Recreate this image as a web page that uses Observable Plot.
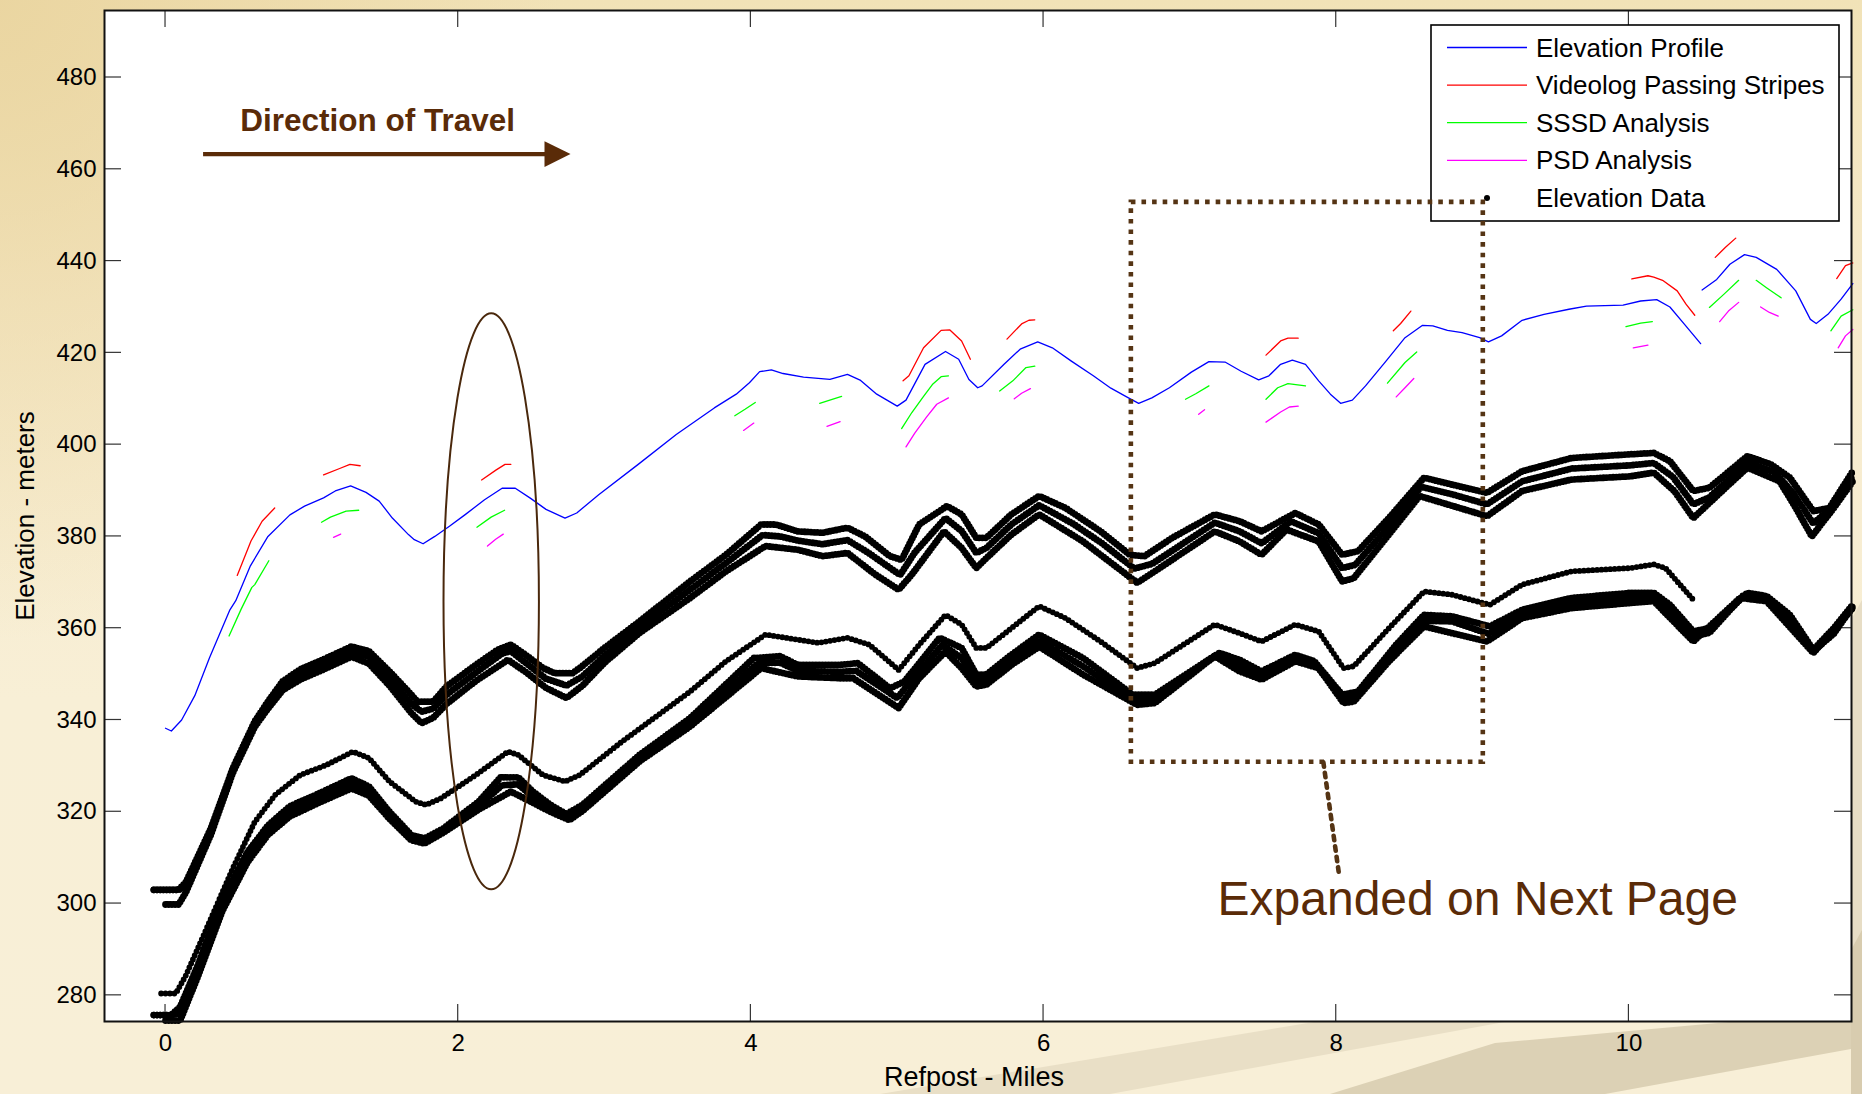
<!DOCTYPE html>
<html>
<head>
<meta charset="utf-8">
<script src="https://cdn.jsdelivr.net/npm/d3@7"></script>
<script src="https://cdn.jsdelivr.net/npm/@observablehq/plot@0.6"></script>
<style>
  html, body { margin: 0; padding: 0; }
  body {
    width: 1862px; height: 1094px; overflow: hidden; position: relative;
    background:
      radial-gradient(ellipse 560px 640px at 0 0, rgba(234,213,160,0.95), rgba(234,213,160,0) 100%),
      linear-gradient(to bottom, #F1E2B7 0px, #F6EACB 300px, #F8EFD6 700px, #F8EFD7 100%);
    font-family: "Liberation Sans", Arial, sans-serif;
  }
  #bg { position: absolute; left: 0; top: 0; }
  #chart { position: absolute; left: 0; top: 0; }
</style>
</head>
<body>
<svg id="bg" width="1862" height="1094">
  <polygon points="880,1094 1320,1021 1510,1021 1110,1094" fill="#E9DFC6"/>
  <polygon points="1330,1094 1495,1043 1740,1021 1862,1021 1862,1047 1605,1094" fill="#DCD1B5"/>
  <polygon points="1851,620 1862,600 1862,1094 1851,1094" fill="#E7DDC5"/>
  <polygon points="1851,950 1862,930 1862,1094 1851,1094" fill="#D8CCAF"/>
</svg>
<div id="chart"></div>
<script>
// ---------- axes ----------
const xDomain = [-0.417, 11.521];
const yDomain = [274.3, 494.6];
const xTicks = [0, 2, 4, 6, 8, 10];
const yTicks = [280, 300, 320, 340, 360, 380, 400, 420, 440, 460, 480];
const xLabel = "Refpost - Miles";
const yLabel = "Elevation - meters";

// ---------- Elevation Profile (blue) ----------
const profileMain = [[0,338.2],[0.04,337.6],[0.11,340],[0.2,345.3],[0.3,353.5],[0.44,364],[0.48,366],[0.58,373.6],[0.7,380],[0.85,384.7],[0.95,386.6],[1.08,388.4],[1.16,389.9],[1.265,391],[1.37,389.6],[1.46,387.7],[1.55,384],[1.66,380.4],[1.7,379.3],[1.76,378.4],[1.84,380],[1.94,382.2],[2.05,384.8],[2.18,388],[2.3,390.5],[2.39,390.5],[2.49,388.4],[2.6,385.9],[2.73,384],[2.81,385.1],[2.96,389.1],[3.23,395.7],[3.49,402.2],[3.75,408],[3.9,411],[3.99,413.5],[4.06,415.9],[4.14,416.3],[4.22,415.5],[4.36,414.7],[4.54,414.2],[4.66,415.3],[4.75,414],[4.86,411],[4.93,409.7],[5.0,408.4],[5.06,409.7],[5.19,417.5],[5.33,420.3],[5.42,418.6],[5.49,414.2],[5.55,412.4],[5.58,412.8],[5.73,417.5],[5.84,420.8],[5.96,422.4],[6.06,421.1],[6.19,418.2],[6.34,415],[6.46,412.3],[6.58,410.2],[6.65,409],[6.74,410.2],[6.86,412.4],[7.01,415.8],[7.13,418.1],[7.24,418],[7.35,416],[7.47,414.1],[7.54,415],[7.62,417.5],[7.7,418.4],[7.79,417.5],[7.88,413.9],[7.96,411],[8.03,409],[8.11,409.7],[8.2,412.8],[8.34,418.2],[8.47,423.3],[8.59,426],[8.66,425.9],[8.76,424.9],[8.86,424.4],[8.98,423.3],[9.04,422.4],[9.13,423.7],[9.27,427.1],[9.42,428.4],[9.59,429.5],[9.71,430.2],[9.96,430.4],[10.08,431.3],[10.19,431.6],[10.28,430],[10.38,426.2],[10.49,422]];
const profileEnd = [[10.5,433.7],[10.6,436],[10.69,439.3],[10.79,441.4],[10.87,440.8],[11.01,438.2],[11.14,433.5],[11.24,427.3],[11.28,426.4],[11.36,428.4],[11.45,431.7],[11.53,435.1]];

// ---------- Videolog Passing Stripes (red) ----------
const videologSegments = [
  [[0.49,371.5],[0.584,379],[0.66,383.3],[0.746,386.2]],
  [[1.08,393.4],[1.19,394.8],[1.26,395.7],[1.33,395.4]],
  [[2.16,392.3],[2.26,394.5],[2.32,395.7],[2.36,395.7]],
  [[5.04,413.9],[5.08,415],[5.18,421.1],[5.3,424.9],[5.36,425],[5.44,422.6],[5.5,418.6]],
  [[5.75,423],[5.85,426.3],[5.9,427.1],[5.94,427.2]],
  [[7.52,419.5],[7.62,422.6],[7.67,423.2],[7.74,423.2]],
  [[8.39,424.8],[8.44,426.4],[8.51,429.1]],
  [[10.02,436.1],[10.13,436.8],[10.17,436.5],[10.23,435.8],[10.33,433.5],[10.39,430.6],[10.45,428.2]],
  [[10.59,440.8],[10.66,443],[10.73,445]],
  [[11.42,436.2],[11.48,439],[11.53,439.6]]
];

// ---------- SSSD Analysis (green) ----------
const sssdSegments = [
  [[0.434,358.3],[0.516,364.1],[0.59,368.9],[0.61,369.5],[0.706,374.7]],
  [[1.066,383.1],[1.127,384.2],[1.234,385.5],[1.32,385.7]],
  [[2.128,382],[2.225,384.2],[2.317,385.7]],
  [[3.89,406.3],[3.96,407.7],[4.03,409.2]],
  [[4.47,409],[4.55,409.8],[4.62,410.5]],
  [[5.03,403.5],[5.1,407],[5.18,410.5],[5.24,413.1],[5.3,414.8],[5.35,415]],
  [[5.7,411.7],[5.79,413.9],[5.88,416.8],[5.94,417.1]],
  [[6.97,409.9],[7.04,411.1],[7.13,412.8]],
  [[7.52,409.9],[7.6,412.4],[7.67,413.3],[7.79,412.8]],
  [[8.35,413.4],[8.47,417.9],[8.55,420.2]],
  [[9.98,425.7],[10.08,426.5],[10.16,426.8]],
  [[10.55,429.9],[10.65,432.8],[10.75,435.8]],
  [[10.87,435.8],[10.94,434.2],[11.04,432]],
  [[11.38,424.8],[11.45,428],[11.53,429.4]]
];

// ---------- PSD Analysis (magenta) ----------
const psdSegments = [
  [[1.148,379.8],[1.197,380.5]],
  [[2.2,377.9],[2.256,379.4],[2.308,380.5]],
  [[3.95,403.1],[4.02,404.7]],
  [[4.52,404],[4.61,405]],
  [[5.06,399.5],[5.12,402.5],[5.2,406],[5.27,408.8],[5.35,410.2]],
  [[5.8,410],[5.85,411.2],[5.91,412.2]],
  [[7.06,406.6],[7.1,407.6]],
  [[7.52,404.9],[7.62,407.1],[7.68,408.2],[7.74,408.4]],
  [[8.41,410.4],[8.47,412.4],[8.53,414.4]],
  [[10.03,421.1],[10.13,421.7]],
  [[10.62,426.8],[10.68,429.1],[10.75,431]],
  [[10.9,430],[10.96,428.8],[11.02,428]],
  [[11.43,421.1],[11.48,423.7],[11.53,425.1]]
];

// ---------- Elevation Data (black traces) ----------
const upperTop = [[-0.08,303],[0.09,303],[0.14,304.7],[0.31,316.4],[0.46,329.5],[0.61,339.7],[0.7,344],[0.8,348.4],[0.92,351],[1.1,353.5],[1.27,356],[1.39,355],[1.53,350.6],[1.68,345.5],[1.72,344],[1.83,344],[1.92,347.3],[2.12,352],[2.27,355.3],[2.36,356.4],[2.46,354.2],[2.58,351.3],[2.66,350.2],[2.78,350.2],[2.83,351.3],[3.0,355.7],[3.24,361.5],[3.585,370.2],[3.83,376],[4.07,382.6],[4.17,382.6],[4.32,381.1],[4.49,380.8],[4.66,381.9],[4.78,380],[4.95,375.7],[5.03,374.9],[5.15,382.6],[5.34,386.6],[5.44,384.8],[5.54,379.7],[5.61,379.7],[5.78,384.8],[5.97,388.8],[6.15,386.2],[6.39,381.1],[6.59,376],[6.69,375.7],[6.88,379.7],[7.17,384.8],[7.34,383.3],[7.49,381.1],[7.72,385.1],[7.88,382.6],[8.04,376],[8.15,376.8],[8.36,384],[8.6,392.8],[8.79,391.3],[9.03,389.5],[9.27,394.2],[9.61,397.1],[10.01,397.9],[10.17,398.2],[10.28,396.4],[10.44,389.9],[10.55,390.6],[10.81,397.5],[10.97,395.7],[11.1,392.8],[11.26,385.5],[11.37,386.2],[11.53,394.2]];
const upperMid = [[-0.08,303],[0.09,303],[0.14,304],[0.31,315.8],[0.46,329],[0.61,339],[0.7,343.3],[0.8,347.5],[0.92,350],[1.1,352.5],[1.27,355],[1.39,353.8],[1.53,349.2],[1.68,343.5],[1.75,341.8],[1.83,342.5],[1.92,345.5],[2.12,350.3],[2.3,354.5],[2.36,355],[2.46,352.5],[2.6,349],[2.74,347.5],[2.85,349.5],[3.0,354],[3.24,360.3],[3.585,368.4],[3.83,374.2],[4.08,380.3],[4.2,380],[4.32,379.1],[4.49,378.3],[4.66,379.2],[4.8,376.5],[5.02,371.6],[5.12,376.5],[5.33,384],[5.44,381.2],[5.54,376.4],[5.61,377.5],[5.78,382.6],[5.97,386.8],[6.2,382.8],[6.4,378.5],[6.62,373],[6.74,374],[7.17,383],[7.34,381.1],[7.49,378.5],[7.69,383.3],[7.88,380.7],[8.04,373.1],[8.13,373.8],[8.36,382.2],[8.58,390.8],[8.79,389.2],[9.03,387],[9.27,392],[9.61,394.8],[10.01,395.5],[10.17,396],[10.3,393],[10.44,387],[10.55,388.5],[10.81,396.2],[11.0,393.9],[11.12,389.5],[11.26,382.8],[11.38,386.2],[11.53,393.1]];
const upperLow = [[0.0,299.8],[0.09,299.8],[0.14,302.5],[0.31,315],[0.46,328.5],[0.61,338.5],[0.7,342.5],[0.8,346.5],[0.92,348.8],[1.1,351.3],[1.27,353.8],[1.39,352.3],[1.53,347.5],[1.68,341.5],[1.75,339.3],[1.83,340.5],[1.92,343.5],[2.12,348.5],[2.34,353.1],[2.46,350.5],[2.6,347],[2.74,344.8],[2.85,347.5],[3.0,352.5],[3.24,359],[3.585,366.6],[3.83,372.4],[4.1,377.9],[4.32,377.1],[4.49,375.7],[4.66,376.4],[4.85,371.7],[5.01,368.4],[5.1,371.7],[5.32,381.1],[5.44,377.5],[5.54,373.1],[5.61,375.3],[5.78,380.4],[5.97,384.8],[6.27,378.9],[6.64,369.9],[6.76,372.4],[7.17,381.1],[7.34,378.9],[7.49,376],[7.66,381.5],[7.88,378.9],[8.04,370.2],[8.12,370.9],[8.36,380.4],[8.57,388.8],[9.03,384.4],[9.27,389.9],[9.61,392.4],[10.01,393.1],[10.17,393.9],[10.31,389.9],[10.44,384],[10.66,390.6],[10.81,395],[11.03,392],[11.14,386.2],[11.25,380],[11.4,386.2],[11.53,392]];
const middleTrace = [[-0.03,280.4],[0.07,280.4],[0.14,284.4],[0.31,296.7],[0.46,307.7],[0.61,317.8],[0.75,323.7],[0.92,328],[1.1,330.2],[1.28,333.1],[1.39,331.7],[1.53,326.6],[1.71,322.2],[1.78,321.5],[1.88,322.9],[2.12,328],[2.34,333.1],[2.41,332.4],[2.58,328],[2.73,326.6],[2.83,328],[3.12,335.3],[3.585,346.2],[3.83,352.8],[4.1,358.6],[4.32,357.5],[4.46,356.8],[4.66,357.9],[4.81,356.4],[5.01,350.9],[5.15,356.4],[5.33,362.9],[5.44,360.8],[5.54,355.7],[5.61,355.7],[5.78,360],[5.97,364.8],[6.15,362.2],[6.39,357.1],[6.64,351.3],[6.76,352.4],[7.17,360.8],[7.34,358.9],[7.49,357.1],[7.72,360.8],[7.88,359.3],[8.05,351.3],[8.12,351.7],[8.36,360],[8.6,368],[8.79,367.3],[9.05,365.1],[9.27,369.5],[9.61,372.4],[10.01,373.1],[10.17,373.9],[10.25,373.1],[10.44,366.2]];
const lowerTop = [[-0.08,275.7],[0.04,275.7],[0.1,277.5],[0.22,286.5],[0.39,301],[0.56,311.2],[0.7,317],[0.85,321.2],[1.05,324],[1.27,327.3],[1.39,325.5],[1.53,320],[1.68,314.9],[1.77,314.2],[1.9,316.4],[2.14,322.2],[2.29,327.5],[2.41,327.5],[2.51,324.4],[2.63,321.5],[2.74,319.5],[2.85,321.5],[3.24,332.4],[3.585,340.4],[4.02,353.5],[4.2,353.9],[4.32,352],[4.61,352],[4.73,352.4],[4.95,346.9],[5.05,348.4],[5.29,357.9],[5.44,355.7],[5.54,349.9],[5.61,349.9],[5.78,354.2],[5.97,358.6],[6.27,353.5],[6.61,345.5],[6.76,345.5],[7.2,354.6],[7.34,353.1],[7.49,350.6],[7.72,354.2],[7.85,352.8],[8.04,345.5],[8.15,346.2],[8.41,356.4],[8.6,362.9],[8.79,362.6],[9.05,360.4],[9.27,364],[9.61,366.6],[10.01,367.7],[10.17,367.7],[10.28,365.1],[10.44,359.3],[10.55,360],[10.81,367.7],[10.94,367],[11.1,362.9],[11.26,355.3],[11.4,360],[11.53,365.1]];
const lowerMid = [[-0.08,275.7],[0.04,275.7],[0.1,276],[0.22,285.2],[0.39,299.7],[0.56,310.1],[0.7,316],[0.85,320.1],[1.05,323],[1.27,326.2],[1.39,324.5],[1.53,319.2],[1.68,314.3],[1.77,313.6],[1.9,316],[2.14,321.3],[2.3,325.8],[2.41,326],[2.51,323.2],[2.63,320.8],[2.75,318.8],[2.85,320.8],[3.24,331.7],[3.585,339.5],[4.05,352.4],[4.2,352.5],[4.32,350.7],[4.61,350.5],[4.72,350.7],[5.0,344.8],[5.1,348.7],[5.31,356.4],[5.44,353.5],[5.54,348.6],[5.61,348.8],[5.78,353.1],[5.97,357.3],[6.27,351.7],[6.62,344.4],[6.76,344.6],[7.18,354.2],[7.34,351.8],[7.49,349.7],[7.72,353.5],[7.86,352],[8.05,344.6],[8.13,345.1],[8.38,354.6],[8.6,361.6],[8.79,361.5],[9.04,358.8],[9.27,363.1],[9.61,365.5],[10.01,366.6],[10.17,366.8],[10.28,364],[10.44,358.2],[10.55,359],[10.78,367.1],[10.94,366.4],[11.1,361.5],[11.26,355],[11.4,358.8],[11.53,364.7]];
const lowerLow = [[0.0,274.5],[0.1,274.5],[0.22,284],[0.39,298.5],[0.56,309],[0.7,315],[0.85,319],[1.05,322],[1.27,325.1],[1.39,323.5],[1.53,318.5],[1.68,313.8],[1.77,313.1],[1.9,315.5],[2.14,320.5],[2.36,324.4],[2.51,322],[2.63,320],[2.76,318.2],[2.85,320.2],[3.24,331],[3.585,338.6],[4.07,351.3],[4.32,349.5],[4.61,349.1],[4.7,349.1],[5.01,342.6],[5.15,349.1],[5.33,354.9],[5.44,351.3],[5.54,347.3],[5.61,347.7],[5.78,352],[5.97,356],[6.27,349.9],[6.64,343.3],[6.76,343.7],[7.17,353.9],[7.34,350.6],[7.49,348.8],[7.72,352.8],[7.88,351.3],[8.05,343.7],[8.12,344],[8.36,352.8],[8.6,360.4],[9.03,357.1],[9.27,362.2],[9.61,364.4],[10.01,365.5],[10.17,365.9],[10.44,357.1],[10.76,366.6],[10.94,365.9],[11.26,354.6],[11.53,364.4]];

// ---------- legend + annotations ----------
const legendItems = [
  {label: "Elevation Profile", color: "#0000FF", kind: "line"},
  {label: "Videolog Passing Stripes", color: "#FF0000", kind: "line"},
  {label: "SSSD Analysis", color: "#00FF00", kind: "line"},
  {label: "PSD Analysis", color: "#FF00FF", kind: "line"},
  {label: "Elevation Data", color: "#000000", kind: "dot"}
];
const directionNote = {text: "Direction of Travel", x: 0.51, y: 468.3};
const directionArrow = {x1: 0.26, x2: 2.771, y: 463.2};
const highlightEllipse = {cx: 2.229, cy: 365.75, rx: 0.326, ry: 62.76};
const expandBox = {x1: 6.6, x2: 9.005, y1: 330.8, y2: 452.8};
const expandLeader = [[7.912, 330.8], [8.018, 306.6]];
const expandNote = {text: "Expanded on Next Page", x: 7.189, y: 297.6};

const brown = "#5a2b08";
const dotBrown = "#553414";

// ---------- tables ----------
const toRows = (pts, id) => pts.map(([x, y]) => ({x, y, id}));
const segRows = (segs) => segs.flatMap((s, i) => toRows(s, i));
const profileRows = [...toRows(profileMain, "a"), ...toRows(profileEnd, "b")];
const bandRows = [...toRows(upperTop, "u1"), ...toRows(upperMid, "u2"), ...toRows(upperLow, "u3"),
                  ...toRows(lowerTop, "l1"), ...toRows(lowerMid, "l2"), ...toRows(lowerLow, "l3")];
const midRows = toRows(middleTrace, "m");

// ---------- custom renders ----------
function innerTicks(index, scales, values, dims) {
  const L = dims.marginLeft, R = dims.width - dims.marginRight;
  const T = dims.marginTop, B = dims.height - dims.marginBottom;
  const len = 17;
  const g = d3.create("svg:g").attr("stroke", "#333").attr("stroke-width", 1.2);
  for (const t of xTicks) {
    const px = scales.x(t);
    g.append("line").attr("x1", px).attr("x2", px).attr("y1", B).attr("y2", B - len);
    g.append("line").attr("x1", px).attr("x2", px).attr("y1", T).attr("y2", T + len);
  }
  for (const t of yTicks) {
    const py = scales.y(t);
    g.append("line").attr("x1", L).attr("x2", L + len).attr("y1", py).attr("y2", py);
    g.append("line").attr("x1", R).attr("x2", R - len).attr("y1", py).attr("y2", py);
  }
  return g.node();
}

function legendMark(index, scales, values, dims) {
  const right = dims.width - dims.marginRight;
  const w = 408, h = 196, lx = right - 12 - w, ly = dims.marginTop + 15;
  const g = d3.create("svg:g").attr("text-anchor", "start");
  g.append("rect").attr("x", lx).attr("y", ly).attr("width", w).attr("height", h)
    .attr("fill", "white").attr("stroke", "black").attr("stroke-width", 1.6);
  legendItems.forEach((d, i) => {
    const cy = ly + 22.5 + i * 37.6;
    if (d.kind === "line") {
      g.append("line").attr("x1", lx + 16).attr("x2", lx + 96).attr("y1", cy).attr("y2", cy)
        .attr("stroke", d.color).attr("stroke-width", 1.3);
    } else {
      g.append("circle").attr("cx", lx + 56).attr("cy", cy).attr("r", 3).attr("fill", d.color);
    }
    g.append("text").attr("x", lx + 105).attr("y", cy).attr("dy", "0.35em")
      .attr("text-anchor", "start").attr("font-size", 26).attr("fill", "black").text(d.label);
  });
  return g.node();
}

function ellipseAndArrow(index, scales) {
  const g = d3.create("svg:g");
  const e = highlightEllipse;
  g.append("ellipse")
    .attr("cx", scales.x(e.cx)).attr("cy", scales.y(e.cy))
    .attr("rx", Math.abs(scales.x(e.cx + e.rx) - scales.x(e.cx)))
    .attr("ry", Math.abs(scales.y(e.cy + e.ry) - scales.y(e.cy)))
    .attr("fill", "none").attr("stroke", "#4a280c").attr("stroke-width", 2);
  const a = directionArrow;
  const x1 = scales.x(a.x1), tip = scales.x(a.x2), y = scales.y(a.y);
  const base = tip - 26;
  g.append("line").attr("x1", x1).attr("x2", base + 2).attr("y1", y).attr("y2", y)
    .attr("stroke", brown).attr("stroke-width", 4.2);
  g.append("polygon").attr("points", `${base},${y - 12.8} ${tip},${y} ${base},${y + 12.8}`).attr("fill", brown);
  return g.node();
}

const chart = Plot.plot({
  width: 1862,
  height: 1094,
  marginLeft: 104,
  marginRight: 11,
  marginTop: 10,
  marginBottom: 73,
  style: {fontFamily: "'Liberation Sans', Arial, sans-serif", fontSize: "24px", background: "transparent", color: "black"},
  x: {domain: xDomain, ticks: xTicks, tickSize: 0, tickPadding: 12, label: null, tickFormat: d => String(d)},
  y: {domain: yDomain, ticks: yTicks, tickSize: 0, tickPadding: 8, label: null, tickFormat: d => String(d)},
  marks: [
    Plot.frame({fill: "white", stroke: "none"}),
    innerTicks,
    Plot.line(profileRows, {x: "x", y: "y", z: "id", stroke: "#0000FF", strokeWidth: 1.3}),
    Plot.line(segRows(videologSegments), {x: "x", y: "y", z: "id", stroke: "#FF0000", strokeWidth: 1.3}),
    Plot.line(segRows(sssdSegments), {x: "x", y: "y", z: "id", stroke: "#00FF00", strokeWidth: 1.3}),
    Plot.line(segRows(psdSegments), {x: "x", y: "y", z: "id", stroke: "#FF00FF", strokeWidth: 1.3}),
    Plot.line(bandRows, {x: "x", y: "y", z: "id", stroke: "black", strokeWidth: 6.8,
      strokeDasharray: "0,3.2", strokeLinecap: "round", strokeLinejoin: "round"}),
    Plot.line(midRows, {x: "x", y: "y", z: "id", stroke: "black", strokeWidth: 5.8,
      strokeDasharray: "0,4.4", strokeLinecap: "round", strokeLinejoin: "round"}),
    legendMark,
    ellipseAndArrow,
    Plot.text([directionNote], {x: "x", y: "y", text: "text", textAnchor: "start", lineAnchor: "bottom",
      fontSize: 31.5, fontWeight: "bold", fill: brown}),
    Plot.rect([expandBox], {x1: "x1", x2: "x2", y1: "y1", y2: "y2", fill: "none", stroke: dotBrown,
      strokeWidth: 4.6, strokeDasharray: "4.6,6"}),
    Plot.line(expandLeader, {x: d => d[0], y: d => d[1], stroke: dotBrown, strokeWidth: 4.6, strokeDasharray: "4.6,6"}),
    Plot.text([expandNote], {x: "x", y: "y", text: "text", textAnchor: "start", lineAnchor: "bottom",
      fontSize: 48, fill: brown}),
    Plot.frame({stroke: "#111", strokeWidth: 2}),
    Plot.text([xLabel], {frameAnchor: "bottom", dy: 64, dx: -4, textAnchor: "middle", lineAnchor: "bottom", fontSize: 27, fill: "black"}),
    Plot.text([yLabel], {frameAnchor: "left", dx: -79, rotate: -90, textAnchor: "middle", fontSize: 26, fill: "black"})
  ]
});
document.getElementById("chart").appendChild(chart);
</script>
</body>
</html>
